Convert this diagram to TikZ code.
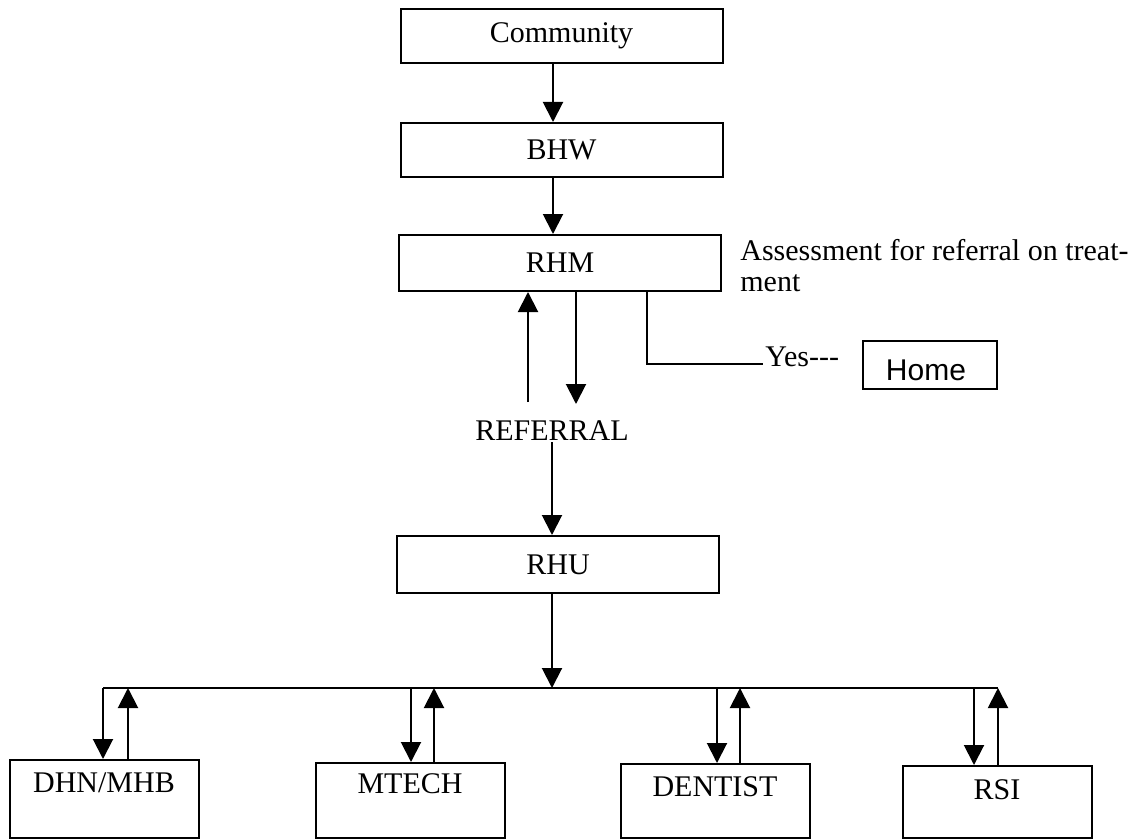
\documentclass[tikz,border=0pt]{standalone}
\usepackage{fontspec}
\setmainfont{Liberation Serif}
\newfontfamily\homefont{Liberation Sans}
\usetikzlibrary{arrows.meta}
\begin{document}
\begin{tikzpicture}[x=0.5pt,y=-0.5pt,
  every node/.style={font=\fontsize{15pt}{18pt}\selectfont},
  box/.style={draw, line width=1pt, inner sep=0pt},
  topbox/.style={box, minimum width=161pt, minimum height=27pt},
  leafbox/.style={box, minimum width=94.5pt},
  lbl/.style={inner sep=1pt},
  link/.style={line width=1pt},
  arr/.style={link, -{Triangle[length=10pt,width=10pt]}}]
\useasboundingbox (0,0) rectangle (1146,840);

% referral chain
\node[topbox] (community) at (561.5,36) {Community};
\node[topbox] (bhw) at (561.5,150) {BHW};
\node[topbox, minimum height=28pt] (rhm) at (560,263) {RHM};
\node[lbl, anchor=base] (referral) at (552,440) {REFERRAL};
\node[topbox, minimum height=28.5pt] (rhu) at (558,564.5) {RHU};

\draw[arr] (community.south -| 553,0) -- (bhw.north -| 553,0);
\draw[arr] (bhw.south -| 553,0) -- (rhm.north -| 553,0);

% two-way link between RHM and the referral level
\coordinate (upfoot) at (528,402);
\coordinate (dnfoot) at (576,404);
\draw[arr] (upfoot) -- (rhm.south -| upfoot);
\draw[arr] (rhm.south -| dnfoot) -- (dnfoot);
\draw[arr] (referral.south -| 552,0) -- (rhu.north -| 552,0);

% assessment note and the branch to home
\node[lbl, anchor=base west] (note1) at (738,260) {Assessment for referral on treat-};
\node[lbl, anchor=base west] (note2) at (738,291) {ment};
\coordinate (yesend) at (763,364);
\draw[link] (rhm.south -| 647,0) |- (yesend);
\node[inner sep=0pt, anchor=base west] (yes) at (765,366) {Yes-{}-{}-};
\node[box, minimum width=67pt, minimum height=24pt] (home) at (930,365) {};
\node[inner sep=0pt, anchor=base, font=\homefont\fontsize{15pt}{18pt}\selectfont] (hometext) at (926,380) {Home};

% distribution bus below RHU
\coordinate (busL) at (103,688);
\coordinate (busM) at (552,688);
\coordinate (busR) at (998,688);
\draw[link] (busL) -- (busR);
\draw[arr] (rhu.south -| busM) -- (busM);

% service units
\node[leafbox, minimum height=39pt] (dhn) at (104,799) {};
\node[leafbox, minimum height=37.5pt] (mtech) at (410,800.5) {};
\node[leafbox, minimum height=37pt] (dentist) at (715,801) {};
\node[leafbox, minimum height=36pt] (rsi) at (997,802) {};
\node[inner sep=0pt, anchor=base] (dhnt) at (104,792) {DHN/MHB};
\node[inner sep=0pt, anchor=base] (mtecht) at (410,793) {MTECH};
\node[inner sep=0pt, anchor=base] (dentistt) at (715,796) {DENTIST};
\node[inner sep=0pt, anchor=base] (rsit) at (997,799) {RSI};

\draw[arr] (busL) -- (dhn.north -| busL);
\draw[arr] (dhn.north -| 128,0) -- (busL -| 128,0);
\draw[arr] (busL -| 411,0) -- (mtech.north -| 411,0);
\draw[arr] (mtech.north -| 434,0) -- (busL -| 434,0);
\draw[arr] (busL -| 717,0) -- (dentist.north -| 717,0);
\draw[arr] (dentist.north -| 740,0) -- (busL -| 740,0);
\draw[arr] (busL -| 974,0) -- (rsi.north -| 974,0);
\draw[arr] (rsi.north -| busR) -- (busR);
\end{tikzpicture}
\end{document}
